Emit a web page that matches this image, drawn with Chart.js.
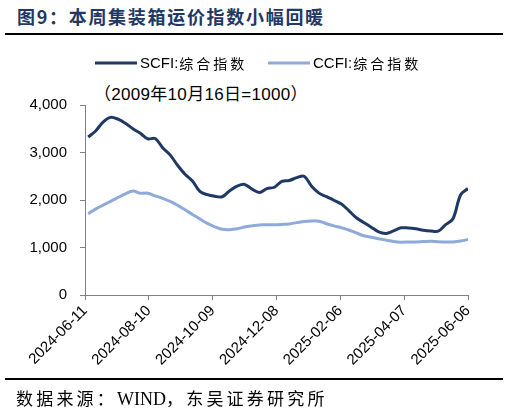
<!DOCTYPE html>
<html>
<head>
<meta charset="utf-8">
<script src="https://cdn.jsdelivr.net/npm/chart.js@4.4.1/dist/chart.umd.min.js"></script>
<style>
  html, body { margin:0; padding:0; background:#fff; }
  #wrap { position:relative; width:509px; height:413px; overflow:hidden; background:#fff; }
  #c { position:absolute; left:0; top:0; }
  .title { position:absolute; left:17px; top:5px; font-family:"Noto Sans CJK SC"; font-weight:700; font-size:18px; letter-spacing:1.7px; color:#1f3864; white-space:nowrap; line-height:22px; }
  .rule { position:absolute; left:5px; width:498px; height:2px; background:#000; }
  .sub { position:absolute; left:94px; top:85px; font-family:"Liberation Sans","Noto Sans CJK SC"; font-size:17px; letter-spacing:0.3px; color:#000; white-space:nowrap; line-height:19px; }
  .src { position:absolute; left:16px; top:387px; font-family:"Noto Sans CJK SC"; font-size:17px; letter-spacing:3.2px; color:#000; white-space:nowrap; line-height:22px; }
  .src .w { font-family:"Liberation Serif"; letter-spacing:0; font-size:18px; }
</style>
</head>
<body>
<div id="wrap">
  <div class="title">图9：本周集装箱运价指数小幅回暖</div>
  <div class="rule" style="top:33px"></div>
  <div class="sub">（2009年10月16日=1000）</div>
  <canvas id="c" width="509" height="413"></canvas>
  <div class="rule" style="top:378px"></div>
  <div class="src">数据来源：<span class="w">WIND</span>，东吴证券研究所</div>
</div>
<script>
// ---- data ----
const startDate = '2024-06-11';          // axis start
const firstObs = '2024-06-14';           // first weekly observation (Friday)
const seriesNames = ['SCFI:综合指数', 'CCFI:综合指数'];
const scfi = [3326,3454,3640,3740,3701,3614,3500,3405,3287,3295,3100,2950,2731,2542,2400,2180,2112,2078,2068,2196,2290,2328,2230,2160,2240,2268,2394,2412,2470,2500,2290,2145,2070,1995,1914,1776,1627,1528,1428,1330,1297,1351,1414,1411,1393,1363,1347,1345,1480,1610,2106,2243];
const ccfi = [1712,1808,1891,1972,2052,2129,2188,2141,2144,2087,2034,1970,1889,1794,1695,1600,1507,1435,1383,1375,1393,1430,1455,1476,1477,1477,1485,1497,1524,1549,1560,1553,1500,1455,1415,1369,1306,1248,1216,1186,1155,1127,1112,1115,1118,1125,1131,1123,1118,1118,1135,1167];
const yTicks = [0, 1000, 2000, 3000, 4000];
const xTickLabels = ['2024-06-11','2024-08-10','2024-10-09','2024-12-08','2025-02-06','2025-04-07','2025-06-06'];

// ---- build ----
const DAY = 86400000;
const t0 = Date.parse(startDate + 'T00:00:00Z');
const tFirst = Date.parse(firstObs + 'T00:00:00Z');
function dayOf(i){ return (tFirst - t0)/DAY + 7*i; }
function fmtDate(d){
  const t = new Date(t0 + d*DAY);
  return t.toISOString().slice(0,10);
}
const scfiPts = scfi.map((v,i)=>({x:dayOf(i), y:v}));
const ccfiPts = ccfi.map((v,i)=>({x:dayOf(i), y:v}));
const xMax = (Date.parse(xTickLabels[xTickLabels.length-1]+'T00:00:00Z') - t0)/DAY;

const legendPlugin = {
  id:'customLegend',
  afterDraw(chart){
    const ctx = chart.ctx;
    const items = [{x:95, tx:140}, {x:268, tx:313}];
    const y = 63;
    chart.data.datasets.forEach((ds, i) => {
      const it = items[i];
      ctx.save();
      ctx.strokeStyle = ds.borderColor;
      ctx.lineWidth = 3;
      ctx.beginPath();
      ctx.moveTo(it.x, y); ctx.lineTo(it.x + 42, y);
      ctx.stroke();
      const parts = ds.label.split(':');
      ctx.fillStyle = '#000';
      ctx.textBaseline = 'middle';
      ctx.font = '15px "Liberation Sans"';
      const latin = parts[0] + ':';
      ctx.fillText(latin, it.tx, y+1);
      const w = ctx.measureText(latin).width;
      ctx.font = '14px "Noto Sans CJK SC"';
      ctx.letterSpacing = '3px';
      ctx.fillText(parts[1], it.tx + w + 1, y+1);
      ctx.restore();
    });
  }
};

new Chart(document.getElementById('c'), {
  type:'line',
  data:{
    datasets:[
      { label:seriesNames[0], data:scfiPts, borderColor:'#1f3864', backgroundColor:'#1f3864', borderWidth:3, pointRadius:0, tension:0.35, fill:false },
      { label:seriesNames[1], data:ccfiPts, borderColor:'#8eaadb', backgroundColor:'#8eaadb', borderWidth:3, pointRadius:0, tension:0.35, fill:false }
    ]
  },
  options:{
    responsive:false,
    animation:false,
    devicePixelRatio:1,
    layout:{ padding:{ top:105, right:41, left:0, bottom:0 } },
    plugins:{ legend:{display:false}, tooltip:{enabled:false}, title:{display:false} },
    scales:{
      x:{
        type:'linear', min:0, max:xMax,
        afterBuildTicks(scale){ scale.ticks = xTickLabels.map(s => ({ value:(Date.parse(s+'T00:00:00Z')-t0)/DAY })); },
        ticks:{ callback:(v)=>fmtDate(v), minRotation:45, maxRotation:45, autoSkip:false, color:'#000', font:{family:'"Liberation Sans"', size:15}, padding:2 },
        grid:{ drawOnChartArea:false, drawTicks:true, tickLength:5, color:'#808080' },
        border:{ color:'#808080', width:1 },
        afterFit(scale){ scale.height = 118; }
      },
      y:{
        min:0, max:4000,
        afterBuildTicks(scale){ scale.ticks = yTicks.map(v=>({value:v})); },
        ticks:{ callback:(v)=>v.toLocaleString('en-US'), color:'#000', font:{family:'"Liberation Sans"', size:15}, padding:13 },
        grid:{ drawOnChartArea:false, drawTicks:true, tickLength:5, color:'#808080' },
        border:{ color:'#808080', width:1 },
        afterFit(scale){ scale.width = 85; }
      }
    }
  },
  plugins:[legendPlugin]
});
</script>
</body>
</html>
